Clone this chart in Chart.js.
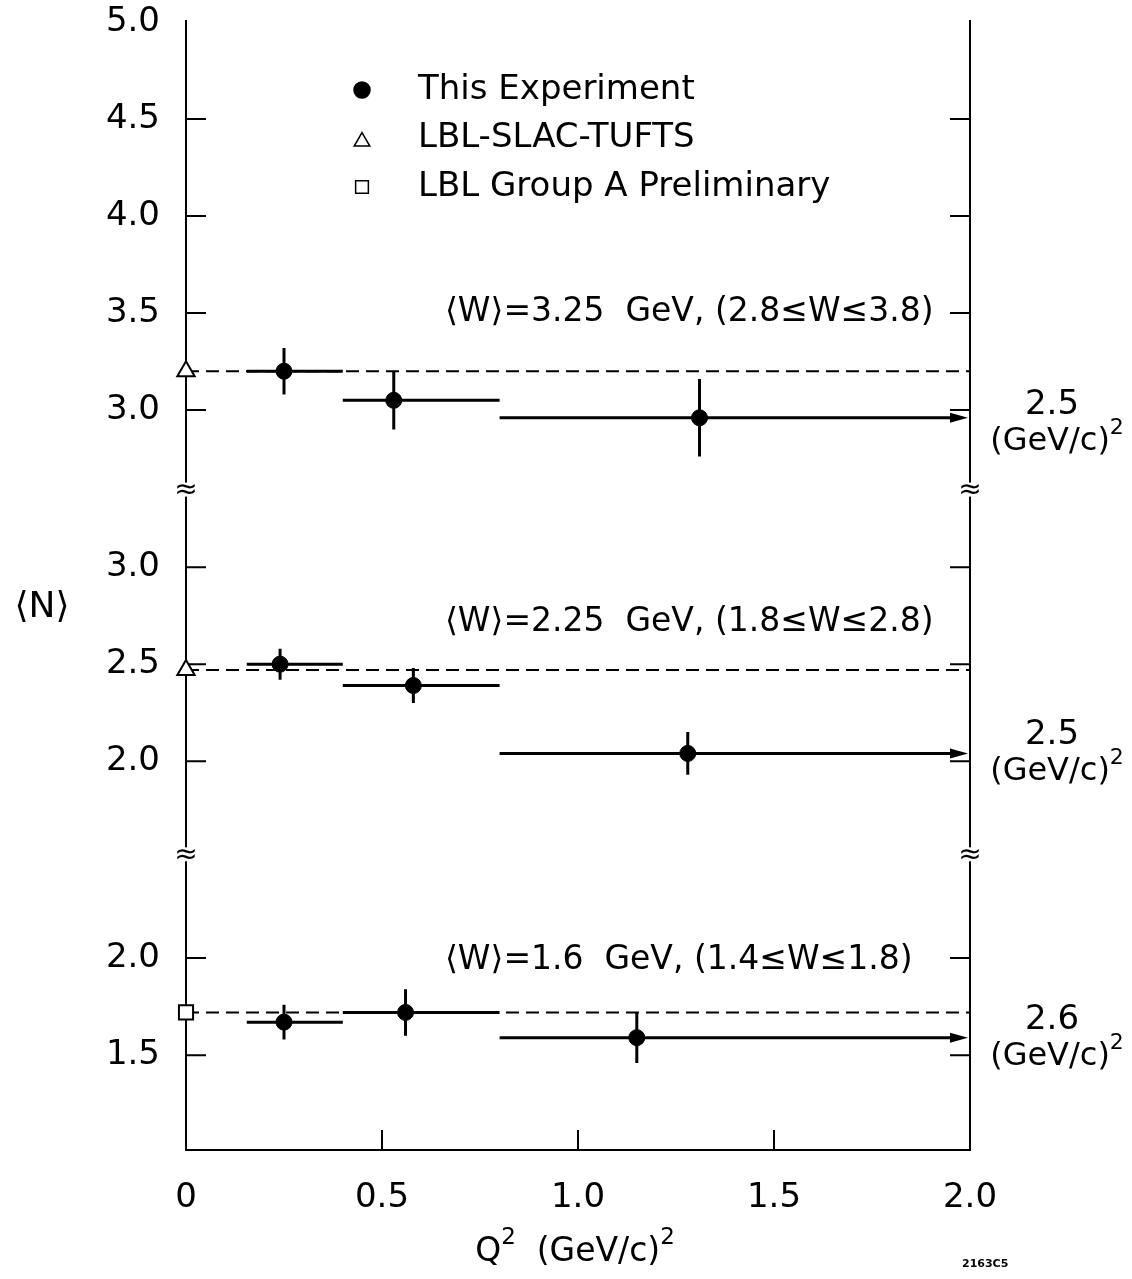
<!DOCTYPE html>
<html>
<head>
<meta charset="utf-8">
<script src="https://cdn.jsdelivr.net/npm/chart.js@4.4.1/dist/chart.umd.min.js"></script>
<style>
  html, body { margin: 0; padding: 0; background: #fff; }
  #wrap { width: 1132px; height: 1279px; position: relative; }
</style>
</head>
<body>
<div id="wrap"><canvas id="chart"></canvas></div>
<script>
'use strict';

// ── Data ──────────────────────────────────────────────────────────────────────
// three stacked panels sharing one vertical axis (broken between them)
const W_MEAN      = ['3.25', '2.25', '1.6'];
const W_RANGE     = ['(2.8≤W≤3.8)', '(1.8≤W≤2.8)', '(1.4≤W≤1.8)'];
const PANEL_SHIFT = [0, 0.81, 1.825];          // downward shift of each panel on the shared axis
const Y_TICKS     = [[5.0, 4.5, 4.0, 3.5, 3.0], [3.0, 2.5, 2.0], [2.0, 1.5]];
const X_TICKS     = [0, 0.5, 1.0, 1.5, 2.0];
const X_TICK_TEXT = ['0', '0.5', '1.0', '1.5', '2.0'];

// This experiment: Q² bin centres, bin edges, <N> and its error
const Q2        = [[0.25, 0.53, 1.31], [0.24, 0.58, 1.28], [0.25, 0.56, 1.15]];
const BIN_LO    = [0.155, 0.40, 0.80];
const BIN_HI    = [0.40, 0.80];
const LAST_EDGE = [2.5, 2.5, 2.6];             // upper edge of last bin, (GeV/c)²
const N_MEAN    = [[3.20, 3.05, 2.96], [2.50, 2.39, 2.04], [1.67, 1.72, 1.59]];
const N_ERR     = [[0.12, 0.15, 0.20], [0.08, 0.09, 0.11], [0.09, 0.12, 0.13]];

// other measurements at Q² = 0
const LBL_SLAC_TUFTS = [3.20, 2.47, null];
const LBL_GROUP_A    = [null, null, 1.72];

// ── Helpers ───────────────────────────────────────────────────────────────────
const FONT = '"DejaVu Sans", sans-serif';
const shift = (v, p) => v - PANEL_SHIFT[p];

function buildExpPoints() {
  const pts = [];
  Q2.forEach((row, p) => row.forEach((q, i) => {
    pts.push({
      x: q,
      y: shift(N_MEAN[p][i], p),
      xMin: BIN_LO[i],
      xMax: i < BIN_HI.length ? BIN_HI[i] : LAST_EDGE[p],
      yErr: N_ERR[p][i]
    });
  }));
  return pts;
}

function refPoints(values) {
  return values
    .map((v, p) => (v == null ? null : { x: 0, y: shift(v, p) }))
    .filter(Boolean);
}

function refLines() {
  const vals = LBL_SLAC_TUFTS.map((v, p) => v != null ? v : LBL_GROUP_A[p]);
  return vals.map((v, p) => ({
    type: 'scatter',
    data: [{ x: 0, y: shift(v, p) }, { x: 2, y: shift(v, p) }],
    showLine: true,
    borderColor: '#000',
    borderWidth: 2,
    borderDash: [13, 7],
    pointRadius: 0,
    order: 3
  }));
}

// text made of plain and superscript pieces
function drawRich(ctx, parts, x, y, size, align) {
  const supSize = Math.round(size * 0.7);
  let w = 0;
  parts.forEach(([t, sup]) => {
    ctx.font = `${sup ? supSize : size}px ${FONT}`;
    w += ctx.measureText(t).width;
  });
  let cx = align === 'center' ? x - w / 2 : align === 'right' ? x - w : x;
  ctx.textAlign = 'left';
  ctx.textBaseline = 'middle';
  parts.forEach(([t, sup]) => {
    ctx.font = `${sup ? supSize : size}px ${FONT}`;
    ctx.fillText(t, cx, sup ? y - size * 0.42 : y);
    cx += ctx.measureText(t).width;
  });
}

// ── Plugin: frame, inward ticks, axis breaks, error bars, texts ───────────────
const decorations = {
  id: 'decorations',
  beforeDatasetsDraw(chart) {
    const { ctx, chartArea: a, scales: { x, y } } = chart;
    ctx.save();
    ctx.strokeStyle = '#000';
    ctx.fillStyle = '#000';
    ctx.lineWidth = 2;

    // frame (left, bottom, right)
    ctx.beginPath();
    ctx.moveTo(a.left, a.top - 2);
    ctx.lineTo(a.left, a.bottom);
    ctx.lineTo(a.right, a.bottom);
    ctx.lineTo(a.right, a.top - 2);
    ctx.stroke();

    // inward ticks
    ctx.beginPath();
    y.ticks.forEach(t => {
      const py = y.getPixelForValue(t.value);
      if (Math.abs(py - a.top) < 1) return;
      ctx.moveTo(a.left, py);  ctx.lineTo(a.left + 20, py);
      ctx.moveTo(a.right, py); ctx.lineTo(a.right - 20, py);
    });
    x.ticks.forEach(t => {
      const px = x.getPixelForValue(t.value);
      if (Math.abs(px - a.left) < 1 || Math.abs(px - a.right) < 1) return;
      ctx.moveTo(px, a.bottom); ctx.lineTo(px, a.bottom - 20);
    });
    ctx.stroke();

    // axis breaks
    [2.59, 0.71].forEach(v => {
      const py = y.getPixelForValue(v);
      [a.left, a.right].forEach(px => {
        ctx.fillStyle = '#fff';
        ctx.fillRect(px - 9, py - 7, 18, 14);
        ctx.fillStyle = '#000';
        ctx.font = `28px ${FONT}`;
        ctx.textAlign = 'center';
        ctx.textBaseline = 'middle';
        ctx.fillText('≈', px, py + 1);
      });
    });

    // error bars of this experiment
    const exp = chart.data.datasets[0].data;
    ctx.lineWidth = 3;
    exp.forEach(d => {
      const px = x.getPixelForValue(d.x);
      const py = y.getPixelForValue(d.y);
      const x0 = x.getPixelForValue(d.xMin);
      const x1 = x.getPixelForValue(Math.min(d.xMax, x.max));
      ctx.beginPath();
      ctx.moveTo(x0, py);
      ctx.lineTo(d.xMax > x.max ? x1 - 16 : x1, py);
      ctx.moveTo(px, y.getPixelForValue(d.y + d.yErr));
      ctx.lineTo(px, y.getPixelForValue(d.y - d.yErr));
      ctx.stroke();
      if (d.xMax > x.max) {
        ctx.beginPath();
        ctx.moveTo(x1 - 2, py);
        ctx.lineTo(x1 - 20, py - 5);
        ctx.lineTo(x1 - 20, py + 5);
        ctx.closePath();
        ctx.fill();
      }
    });
    ctx.restore();
  },

  afterDraw(chart) {
    const { ctx } = chart;
    const H = Chart.helpers;
    ctx.save();
    ctx.fillStyle = '#000';
    ctx.strokeStyle = '#000';

    // legend
    const legend = [
      ['This Experiment',          'circle',   8, '#000'],
      ['LBL-SLAC-TUFTS',           'triangle', 9, '#fff'],
      ['LBL Group A Preliminary',  'rect',     9, '#fff']
    ];
    legend.forEach(([label, style, r, fill], i) => {
      const ly = 90 + i * 48.5;
      ctx.fillStyle = fill;
      ctx.lineWidth = 1.5;
      H.drawPoint(ctx, { pointStyle: style, radius: r, borderWidth: 1.5 }, 362, ly + (style === 'triangle' ? 3 : 0));
      ctx.fillStyle = '#000';
      ctx.font = `34px ${FONT}`;
      ctx.textAlign = 'left';
      ctx.textBaseline = 'middle';
      ctx.fillText(label, 418, ly);
    });

    // panel labels and last-bin edges
    const labelY = [312, 622, 960];
    const edgeY  = [405, 735, 1020];
    W_MEAN.forEach((w, p) => {
      ctx.font = `33px ${FONT}`;
      ctx.textAlign = 'left';
      ctx.textBaseline = 'middle';
      ctx.fillText(`⟨W⟩=${w}  GeV, ${W_RANGE[p]}`, 445, labelY[p]);

      ctx.textAlign = 'center';
      ctx.font = `34px ${FONT}`;
      ctx.fillText(LAST_EDGE[p].toFixed(1), 1052, edgeY[p]);
      drawRich(ctx, [['(GeV/c)', 0], ['2', 1]], 1057, edgeY[p] + 37, 32, 'center');
    });

    // axis titles
    ctx.font = `36px ${FONT}`;
    ctx.textAlign = 'center';
    ctx.textBaseline = 'middle';
    ctx.fillText('⟨N⟩', 42, 608);
    drawRich(ctx, [['Q', 0], ['2', 1], ['  (GeV/c)', 0], ['2', 1]], 575, 1252, 33, 'center');

    ctx.font = `bold 11px ${FONT}`;
    ctx.fillText('2163C5', 962, 1264);
    ctx.restore();
  }
};

// ── Chart ─────────────────────────────────────────────────────────────────────
const Y_TICK_VALUES = Y_TICKS.flatMap((list, p) => list.map(v => shift(v, p)));
const Y_TICK_TEXT   = Y_TICKS.flatMap(list => list.map(v => v.toFixed(1)));

new Chart(document.getElementById('chart'), {
  type: 'scatter',
  data: {
    datasets: [
      {
        label: 'This Experiment',
        data: buildExpPoints(),
        pointStyle: 'circle',
        pointRadius: 8,
        backgroundColor: '#000',
        borderColor: '#000',
        borderWidth: 1,
        order: 0
      },
      {
        label: 'LBL-SLAC-TUFTS',
        data: refPoints(LBL_SLAC_TUFTS),
        pointStyle: 'triangle',
        pointRadius: 10,
        backgroundColor: '#fff',
        borderColor: '#000',
        borderWidth: 2,
        clip: false,
        order: 1
      },
      {
        label: 'LBL Group A Preliminary',
        data: refPoints(LBL_GROUP_A),
        pointStyle: 'rect',
        pointRadius: 10,
        backgroundColor: '#fff',
        borderColor: '#000',
        borderWidth: 2,
        clip: false,
        order: 1
      },
      ...refLines()
    ]
  },
  options: {
    responsive: true,
    maintainAspectRatio: false,
    animation: false,
    events: [],
    layout: { padding: { left: 0, right: 162, top: 22, bottom: 0 } },
    plugins: { legend: { display: false }, tooltip: { enabled: false } },
    scales: {
      x: {
        type: 'linear',
        min: 0, max: 2,
        afterBuildTicks: s => { s.ticks = X_TICKS.map(v => ({ value: v })); },
        afterFit: s => { s.height = 129; s.paddingLeft = 0; s.paddingRight = 0; },
        grid: { display: false, drawTicks: false },
        border: { display: false },
        ticks: {
          callback: (v, i) => X_TICK_TEXT[i],
          autoSkip: false, maxRotation: 0,
          color: '#000', padding: 28,
          font: { family: FONT, size: 34 }
        }
      },
      y: {
        type: 'linear',
        min: -0.814, max: 5.0,
        afterBuildTicks: s => { s.ticks = Y_TICK_VALUES.map(v => ({ value: v })); },
        afterFit: s => { s.width = 186; s.paddingTop = 0; s.paddingBottom = 0; },
        grid: { display: false, drawTicks: false },
        border: { display: false },
        ticks: {
          callback: (v, i) => Y_TICK_TEXT[i],
          autoSkip: false,
          color: '#000', padding: 26,
          font: { family: FONT, size: 34 }
        }
      }
    }
  },
  plugins: [decorations]
});
</script>
</body>
</html>
